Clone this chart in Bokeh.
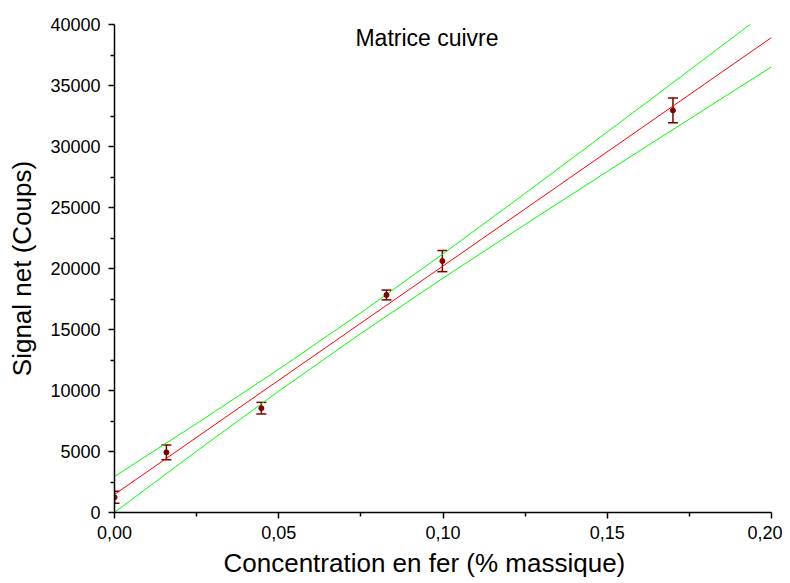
from bokeh.plotting import figure
from bokeh.models import (ColumnDataSource, Whisker, TeeHead, Range1d, FixedTicker,
                          CustomJSTickFormatter, Label, Title)
from bokeh.embed import file_html
from bokeh.resources import INLINE

# Data
conc = [0.0, 0.0158, 0.0447, 0.0828, 0.0998, 0.170]
signal = [1250, 4930, 8550, 17830, 20610, 32960]
err = [490, 600, 475, 400, 870, 1010]

fit_x = [0.0, 0.2]
fit_y = [1480, 38930]

band_x = [0.0, 0.025, 0.05, 0.075, 0.1, 0.125, 0.15, 0.175, 0.2]
band_upper = [2950, 7290, 11740, 16370, 21200, 26160, 31190, 36250, 41330]
band_lower = [10, 5030, 9950, 14680, 19210, 23610, 27950, 32250, 36530]

x_ticks = [0.0, 0.05, 0.10, 0.15, 0.20]
y_ticks = [0, 5000, 10000, 15000, 20000, 25000, 30000, 35000, 40000]

FONT = "Liberation Sans"

p = figure(width=782, height=583, output_backend="svg", toolbar_location=None,
           x_range=Range1d(0, 0.2), y_range=Range1d(0, 40000),
           min_border_left=114, min_border_right=11, min_border_top=24, min_border_bottom=71)
p.outline_line_color = None
p.xgrid.visible = False
p.ygrid.visible = False
p.background_fill_color = "white"
p.border_fill_color = "white"

src = ColumnDataSource(dict(x=conc, y=signal,
                            upper=[s + e for s, e in zip(signal, err)],
                            lower=[s - e for s, e in zip(signal, err)]))

p.line(band_x, band_upper, line_color="#00FF00", line_width=1)
p.line(band_x, band_lower, line_color="#00FF00", line_width=1)
p.line(fit_x, fit_y, line_color="#FF0000", line_width=1)

w = Whisker(base="x", upper="upper", lower="lower", source=src,
            line_color="#800000", line_width=1.5,
            upper_head=TeeHead(size=10, line_color="#800000", line_width=1.5),
            lower_head=TeeHead(size=10, line_color="#800000", line_width=1.5))
p.add_layout(w)
p.scatter("x", "y", source=src, size=5, color="#800000")

for ax in (p.xaxis[0], p.yaxis[0]):
    ax.axis_line_width = 1.5
    ax.axis_line_color = "black"
    ax.major_tick_line_width = 1.5
    ax.minor_tick_line_width = 1.5
    ax.major_tick_out = 6
    ax.major_tick_in = 0
    ax.minor_tick_out = 4
    ax.minor_tick_in = 0
    ax.major_label_text_font = FONT
    ax.major_label_text_font_size = "18px"
    ax.major_label_text_color = "black"
    ax.axis_label_text_font = FONT
    ax.axis_label_text_font_size = "26px"
    ax.axis_label_text_font_style = "normal"
    ax.axis_label_text_color = "black"

p.xaxis.ticker = FixedTicker(ticks=x_ticks, minor_ticks=[0.025, 0.075, 0.125, 0.175])
p.yaxis.ticker = FixedTicker(ticks=y_ticks,
                             minor_ticks=[2500, 7500, 12500, 17500, 22500, 27500, 32500, 37500])
p.xaxis.formatter = CustomJSTickFormatter(code="return tick.toFixed(2).replace('.', ',');")
p.yaxis.formatter = CustomJSTickFormatter(code="return tick.toFixed(0);")
p.yaxis.axis_label = "Signal net (Coups)"
p.xaxis.major_label_standoff = 7
p.yaxis.major_label_standoff = 8
p.yaxis.axis_label_standoff = 10

xlabel = Title(text="Concentration en fer (% massique)", align="left", offset=109,
               text_font=FONT, text_font_size="26px", text_font_style="normal",
               text_color="black", standoff=8)
p.add_layout(xlabel, "below")

title = Label(x=0.1, y=40000, x_offset=-16, y_offset=-26, text="Matrice cuivre",
              text_font=FONT, text_font_size="23px", text_align="center",
              text_baseline="bottom", text_color="black")
p.add_layout(title)

open("out.html", "w").write(file_html(p, INLINE))
